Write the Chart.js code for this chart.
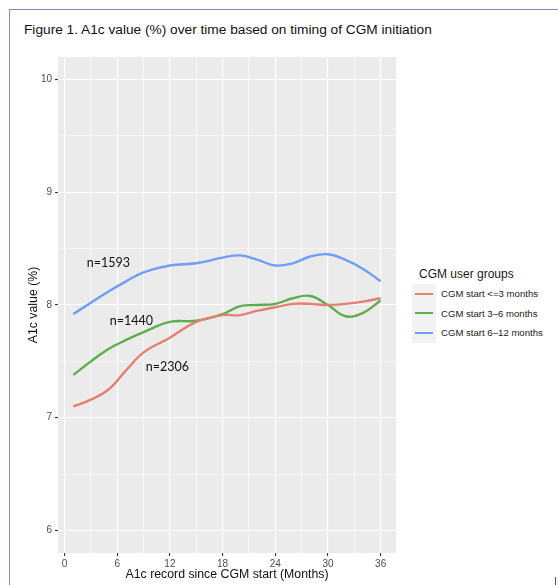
<!DOCTYPE html>
<html>
<head>
<meta charset="utf-8">
<script src="https://cdn.jsdelivr.net/npm/chart.js@4/dist/chart.umd.min.js"></script>
<style>
  html, body { margin: 0; padding: 0; background: #fff; }
  body { width: 558px; height: 585px; position: relative; overflow: hidden;
         font-family: "Liberation Sans", Arial, sans-serif; }
  #frame { position: absolute; left: 9px; top: 9px; right: -2px; bottom: -2px;
           border-left: 1px solid #8a87b3; border-top: 1px solid #8a87b3; }
  #corner { position: absolute; left: 555px; top: 577px; width: 1px; height: 8px; background: #555; }
  #title { position: absolute; left: 24px; top: 22px; font-size: 13.7px; color: #111; white-space: nowrap; }
  #plot { position: absolute; left: 0; top: 0; width: 400px; height: 585px; }
  #legend { position: absolute; left: 412px; top: 264px; color: #1a1a1a; }
  #legend .head { font-size: 12px; height: 20px; line-height: 20px; margin-left: 7px; white-space: nowrap; }
  #legend .row { display: flex; align-items: center; height: 19.5px; }
  #legend .key { width: 24px; height: 19.5px; background: #f2f2f2; position: relative; }
  #legend .key i { position: absolute; left: 3px; right: 3px; top: 8.5px; height: 2.4px; }
  #legend .lab { font-size: 9.6px; margin-left: 5px; white-space: nowrap; }
</style>
</head>
<body>
<div id="frame"></div>
<div id="corner"></div>
<div id="title">Figure 1. A1c value (%) over time based on timing of CGM initiation</div>
<div id="plot"><canvas id="chart"></canvas></div>
<div id="legend"></div>
<script>
// Smoothed A1c trajectories, one value per month below.
const months = [1, 3, 5, 7, 9, 12, 15, 18, 20, 22, 24, 26, 28, 30, 32, 34, 36];
const startLe3 = [7.10, 7.16, 7.25, 7.42, 7.58, 7.71, 7.85, 7.91, 7.91, 7.95, 7.98, 8.01, 8.01, 8.00, 8.01, 8.03, 8.06];
const start3to6 = [7.38, 7.50, 7.61, 7.69, 7.76, 7.85, 7.86, 7.92, 7.99, 8.00, 8.01, 8.06, 8.08, 8.00, 7.90, 7.93, 8.04];
const start6to12 = [7.92, 8.02, 8.12, 8.21, 8.29, 8.35, 8.37, 8.42, 8.44, 8.40, 8.35, 8.37, 8.43, 8.45, 8.40, 8.32, 8.21];

const groupNames = ["CGM start <=3 months", "CGM start 3\u20136 months", "CGM start 6\u201312 months"];
const groupCounts = ["n=2306", "n=1440", "n=1593"];

const monthTicks = [0, 3, 6, 9, 12, 15, 18, 21, 24, 27, 30, 33, 36];
const a1cTicks = [6, 6.5, 7, 7.5, 8, 8.5, 9, 9.5, 10];

const colors = ["#e4806f", "#5dae4a", "#6e9ef5"];
// where each "n=" label sits, in data units (month, A1c)
const countAnchors = [[11.7, 7.45], [7.6, 7.86], [5.0, 8.37]];

const series = [startLe3, start3to6, start6to12];
const PANEL = "#ebebeb";
const isMajorX = (v) => v % 6 === 0;
const isMajorY = (v) => Number.isInteger(v);

const panelBg = {
  id: "panelBg",
  beforeDraw(chart) {
    const { ctx, chartArea: a } = chart;
    ctx.save();
    ctx.fillStyle = PANEL;
    ctx.fillRect(a.left, a.top, a.right - a.left, a.bottom - a.top);
    ctx.restore();
  },
};

const countLabels = {
  id: "countLabels",
  afterDatasetsDraw(chart) {
    const { ctx, scales } = chart;
    ctx.save();
    ctx.font = "12.5px Lato, 'Open Sans', sans-serif";
    ctx.fillStyle = "#111";
    ctx.textAlign = "center";
    ctx.textBaseline = "middle";
    groupCounts.forEach((t, i) => {
      const [m, v] = countAnchors[i];
      ctx.fillText(t, scales.x.getPixelForValue(m), scales.y.getPixelForValue(v));
    });
    ctx.restore();
  },
};

const tickFont = { family: "'Liberation Sans', Arial, sans-serif", size: 10 };
const titleFont = { family: "'Liberation Sans', Arial, sans-serif", size: 12.3 };

new Chart(document.getElementById("chart"), {
  type: "line",
  data: {
    datasets: series.map((vals, i) => ({
      label: groupNames[i],
      data: months.map((m, j) => ({ x: m, y: vals[j] })),
      borderColor: colors[i],
      backgroundColor: colors[i],
      borderWidth: 2.4,
      pointRadius: 0,
      tension: 0.4,
      fill: false,
    })),
  },
  options: {
    responsive: true,
    maintainAspectRatio: false,
    animation: false,
    events: [],
    layout: { padding: { top: 57, right: 4, left: 0, bottom: 0 } },
    plugins: { legend: { display: false }, tooltip: { enabled: false } },
    scales: {
      x: {
        type: "linear",
        min: -0.75,
        max: 37.75,
        afterBuildTicks: (s) => { s.ticks = monthTicks.map((v) => ({ value: v })); },
        afterFit: (s) => { s.height = 32; },
        border: { display: false },
        grid: {
          color: "#ffffff",
          lineWidth: (c) => (isMajorX(c.tick.value) ? 1.1 : 0.55),
          tickColor: (c) => (isMajorX(c.tick.value) ? "#333333" : "rgba(0,0,0,0)"),
          tickWidth: 1.1,
          tickLength: 3,
        },
        ticks: {
          autoSkip: false, maxRotation: 0, padding: 2,
          color: "#4d4d4d", font: tickFont,
          callback: (v) => (isMajorX(v) ? String(v) : ""),
        },
        title: {
          display: true, text: "A1c record since CGM start (Months)",
          color: "#111", font: titleFont, padding: { top: 0, bottom: 2.6 },
        },
      },
      y: {
        min: 5.8,
        max: 10.2,
        afterBuildTicks: (s) => { s.ticks = a1cTicks.map((v) => ({ value: v })); },
        afterFit: (s) => { s.width = 58; },
        border: { display: false },
        grid: {
          color: "#ffffff",
          lineWidth: (c) => (isMajorY(c.tick.value) ? 1.1 : 0.55),
          tickColor: (c) => (isMajorY(c.tick.value) ? "#333333" : "rgba(0,0,0,0)"),
          tickWidth: 1.1,
          tickLength: 3,
        },
        ticks: {
          autoSkip: false, padding: 3,
          color: "#4d4d4d", font: tickFont,
          callback: (v) => (isMajorY(v) ? String(v) : ""),
        },
        title: {
          display: true, text: "A1c value (%)",
          color: "#111", font: titleFont, padding: { top: 26.6, bottom: 0 },
        },
      },
    },
  },
  plugins: [panelBg, countLabels],
});

// ggplot-style legend built from the same names and colours
const legend = document.getElementById("legend");
legend.innerHTML = '<div class="head">CGM user groups</div>' + groupNames.map((n, i) =>
  `<div class="row"><div class="key"><i style="background:${colors[i]}"></i></div><span class="lab"></span></div>`
).join("");
legend.querySelectorAll(".lab").forEach((el, i) => { el.textContent = groupNames[i]; });
</script>
</body>
</html>
